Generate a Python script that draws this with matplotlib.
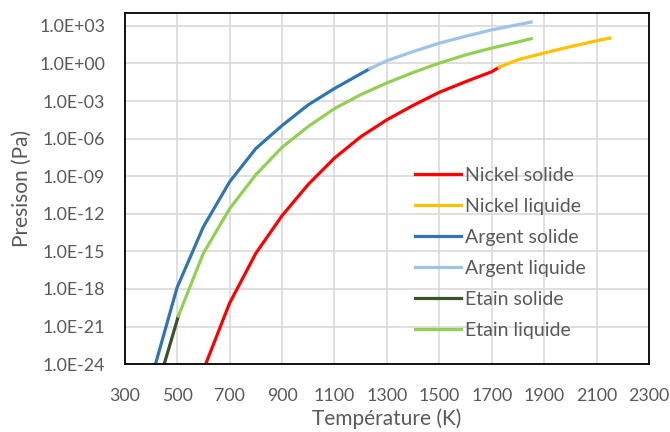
import numpy as np
import matplotlib
matplotlib.use('Agg')
import matplotlib.pyplot as plt

plt.rcParams['font.family'] = ['Lato', 'DejaVu Sans']

# Nickel
ni_sol_T = [600, 700, 800, 900, 1000, 1100, 1200, 1300, 1400, 1500, 1600, 1700, 1728]
ni_sol_P = [3.3e-25, 7.2e-20, 6.9e-16, 7.0e-13, 2.2e-10, 2.8e-8, 1.4e-6, 3.2e-5,
            4.5e-4, 5.0e-3, 3.5e-2, 0.22, 0.5]
ni_liq_T = [1728, 1800, 1900, 2000, 2100, 2150]
ni_liq_P = [0.5, 2.0, 6.8, 22.0, 65.0, 105.0]

# Argent
ag_sol_T = [400, 500, 600, 700, 800, 900, 1000, 1100, 1200, 1235]
ag_sol_P = [5.0e-26, 1.3e-18, 9.0e-14, 3.5e-10, 1.6e-7, 1.1e-5, 5.0e-4, 1.0e-2, 0.15, 0.38]
ag_liq_T = [1235, 1300, 1400, 1500, 1600, 1700, 1800, 1850]
ag_liq_P = [0.38, 1.66, 8.9, 42.0, 148.0, 480.0, 1260.0, 2000.0]

# Etain
sn_sol_T = [400, 505]
sn_sol_P = [2.5e-28, 7.0e-21]
sn_liq_T = [505, 600, 700, 800, 900, 1000, 1100, 1200, 1300, 1400, 1500, 1600, 1700, 1800, 1850]
sn_liq_P = [7.0e-21, 6.9e-16, 2.5e-12, 1.3e-9, 2.0e-7, 9.3e-6, 2.5e-4, 3.2e-3, 2.8e-2,
            0.19, 1.07, 4.8, 17.0, 52.0, 95.0]

x_ticks = list(range(300, 2301, 200))
y_exps = list(range(-24, 4, 3))

grey = '#595959'
lw = 2.3

fig = plt.figure(figsize=(6.7, 4.32), dpi=100)
ax = fig.add_axes([0.186, 0.157, 0.783, 0.813])

ax.plot(ni_sol_T, ni_sol_P, color='#FF0000', lw=lw, label='Nickel solide')
ax.plot(ni_liq_T, ni_liq_P, color='#FFC000', lw=lw, label='Nickel liquide')
ax.plot(ag_sol_T, ag_sol_P, color='#2E75B6', lw=lw, label='Argent solide')
ax.plot(ag_liq_T, ag_liq_P, color='#9DC3E6', lw=lw, label='Argent liquide')
ax.plot(sn_sol_T, sn_sol_P, color='#375623', lw=lw, label='Etain solide')
ax.plot(sn_liq_T, sn_liq_P, color='#92D050', lw=lw, label='Etain liquide')

ax.set_yscale('log')
ax.set_xlim(300, 2300)
ax.set_ylim(1e-24, 10**4.03)
ax.set_xticks(x_ticks)
ax.set_xticklabels([str(t) for t in x_ticks])
ax.set_yticks([10.0**e for e in y_exps])
ax.set_yticklabels(['1.0E%+03d' % e if e < 0 else '1.0E+%02d' % e for e in y_exps])
ax.yaxis.set_minor_locator(matplotlib.ticker.NullLocator())
ax.tick_params(length=0, labelsize=12.8, labelcolor=grey)
ax.tick_params(axis='y', pad=14)
ax.tick_params(axis='x', pad=17)

ax.grid(True, color='#d9d9d9', lw=1.2)
ax.set_axisbelow(True)
for s in ax.spines.values():
    s.set_color('black')
    s.set_linewidth(1.3)

ax.set_xlabel('Température (K)', fontsize=15, color=grey, labelpad=3)
ax.set_ylabel('Presison (Pa)', fontsize=15, color=grey, labelpad=5)

leg = ax.legend(loc='upper left', bbox_to_anchor=(0.535, 0.59), frameon=False,
                borderpad=0, handlelength=2.35, handletextpad=0.2,
                labelspacing=0.72, fontsize=14)
for t in leg.get_texts():
    t.set_color(grey)

fig.savefig('out.png', dpi=100)
